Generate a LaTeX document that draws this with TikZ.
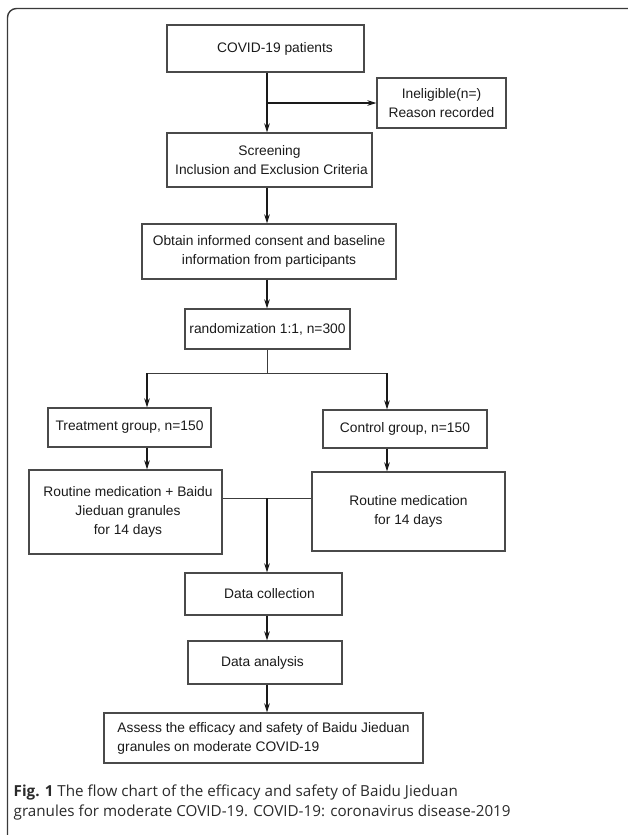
\documentclass[tikz,border=0pt]{standalone}
\usepackage{fontspec}
\setmainfont{Liberation Sans}
\newfontfamily\capfont{Open Sans}
\usetikzlibrary{arrows.meta,calc}
\definecolor{boxc}{HTML}{4A4A4A}
\definecolor{linec}{HTML}{1A1A1A}
\definecolor{textc}{HTML}{1A1A1A}
\definecolor{framec}{HTML}{3A3A3A}
\definecolor{capc}{HTML}{2A2A2A}
\tikzset{
  box/.style={draw=boxc, line width=1.1pt, inner sep=0pt, align=center,
    text=textc, font=\fontsize{13.8}{19}\selectfont},
  arr/.style={draw=linec, line width=1.8pt,
    -{Stealth[length=9pt,width=5.5pt,inset=2.5pt]}},
  thin/.style={draw=linec!85, line width=0.9pt},
  capstyle/.style={anchor=base west, inner sep=0pt, text=capc,
    font=\capfont\fontsize{15.2}{20}\selectfont}
}
\begin{document}
\begin{tikzpicture}[x=1pt,y=-1pt]
\useasboundingbox (0,0) rectangle (627,835);
% frame
\draw[framec, line width=1.4pt, rounded corners=9pt] (7.5,8.5) rectangle (640,850);

% helper coordinates
\coordinate (spine) at (267,0);
\coordinate (lx) at (147,0);
\coordinate (rx) at (387,0);
\coordinate (split) at (267,373);
\coordinate (merge) at (267,498);

% boxes
\node[box, minimum width=197pt, minimum height=47pt] (b1) at (265.5,48.5)
  {\hspace*{19pt}COVID-19 patients};
\node[box, minimum width=129pt, minimum height=50pt] (b2) at (441.5,103)
  {Ineligible(n=)\\Reason recorded};
\node[box, minimum width=205pt, minimum height=54pt] (b3) at (269.5,160)
  {Screening\\\hspace*{4pt}Inclusion and Exclusion Criteria};
\node[box, minimum width=254pt, minimum height=55pt] (b4) at (269,251.5)
  {Obtain informed consent and baseline\\information from participants};
\node[box, minimum width=165pt, minimum height=40pt] (b5) at (267.5,329)
  {randomization 1:1, n=300};
\node[box, minimum width=163pt, minimum height=39pt] (b6) at (129.5,427.5)
  {Treatment group, n=150};
\node[box, minimum width=164pt, minimum height=38pt] (b7) at (405,429)
  {Control group, n=150};
\node[box, minimum width=193pt, minimum height=84pt] (b8) at (125.5,512)
  {\hspace*{5pt}Routine medication + Baidu\\\hspace*{5pt}Jieduan granules\\\hspace*{5pt}for 14 days};
\node[box, minimum width=193pt, minimum height=79pt] (b9) at (408.5,511.5)
  {Routine medication\\for 14 days};
\node[box, minimum width=157pt, minimum height=42pt] (b10) at (263.5,594)
  {\hspace*{12pt}Data collection};
\node[box, minimum width=154pt, minimum height=43pt] (b11) at (265,662.5)
  {Data analysis\hspace*{5pt}};
\node[box, align=left, minimum width=319pt, minimum height=50pt] (b12) at (263.5,738)
  {Assess the efficacy and safety of Baidu Jieduan\\granules on moderate COVID-19};

% connectors
\draw[arr] (b1.south -| spine) -- (b3.north -| spine);
\draw[arr] (spine |- b2.west) -- (b2.west);
\draw[arr] (b3.south -| spine) -- (b4.north -| spine);
\draw[arr] (b4.south -| spine) -- (b5.north -| spine);
\draw[thin] (b5.south -| spine) -- (split);
\draw[thin] (split -| lx) -- (split -| rx);
\draw[arr] (split -| lx) -- (b6.north -| lx);
\draw[arr] (split -| rx) -- (b7.north -| rx);
\draw[arr] (b6.south -| lx) -- (b8.north -| lx);
\draw[arr] (b7.south -| rx) -- (b9.north -| rx);
\draw[thin] (b8.east |- merge) -- (b9.west |- merge);
\draw[arr] (merge) -- (b10.north -| merge);
\draw[arr] (b10.south -| spine) -- (b11.north -| spine);
\draw[arr] (b11.south -| spine) -- (b12.north -| spine);

% caption
\node[capstyle] (cap1) at (13.5,796)
  {\textbf{Fig. 1} The flow chart of the efficacy and safety of Baidu Jieduan};
\node[capstyle] (cap2) at (13.5,816)
  {granules for moderate COVID-19. COVID-19: coronavirus disease-2019};
\end{tikzpicture}
\end{document}
